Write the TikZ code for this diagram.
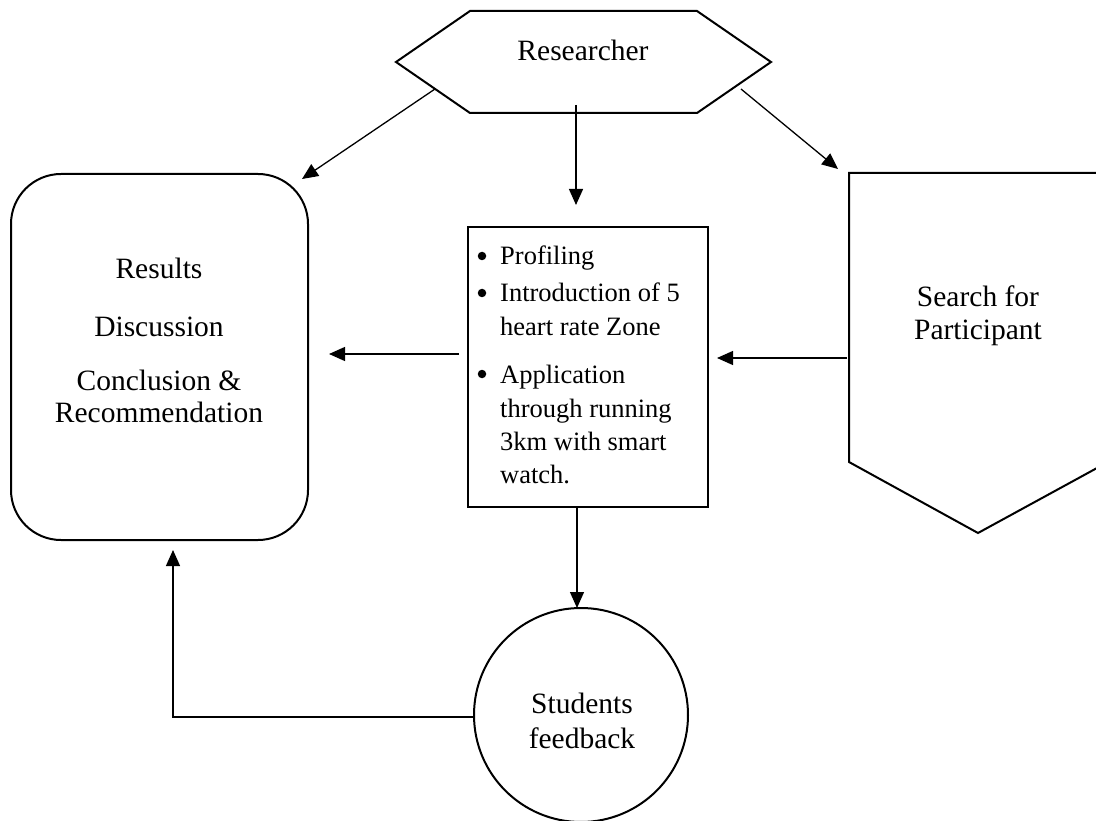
\documentclass[tikz,border=0pt]{standalone}
\usepackage{fontspec}
\setmainfont{Liberation Serif}
\usetikzlibrary{arrows.meta}
\begin{document}
\begin{tikzpicture}[x=1pt,y=-1pt,
  shapeline/.style={draw=black, line width=2pt},
  conn/.style={draw=black, line width=1.3pt, -{Triangle[length=16pt,width=14pt]}},
  big/.style={font=\fontsize{29.5}{33}\selectfont, inner sep=0pt, anchor=base},
  small/.style={font=\fontsize{26.5}{33}\selectfont, inner sep=0pt, anchor=base west},
  bul/.style={circle, fill=black, inner sep=0pt, minimum size=8.5pt}]
\useasboundingbox (0,0) rectangle (1096,821);

% Researcher hexagon
\draw[shapeline] (396,62) -- (470,11) -- (697,11) -- (771,62) -- (697,113) -- (470,113) -- cycle;
\node[big] (researcher) at (583,61) {Researcher};

% Results rounded box
\node[shapeline, rounded corners=50pt, minimum width=297pt, minimum height=366pt, anchor=north west] (results) at (10,173) {};
\node[big] (t1) at (159,279) {Results};
\node[big] (t2) at (159,337) {Discussion};
\node[big] (t3) at (159,390) {Conclusion \&};
\node[big] (t4) at (159,422) {Recommendation};

% Programme box
\node[shapeline, minimum width=240pt, minimum height=280pt, anchor=north west] (prog) at (467,226) {};
\node[bul] (b1) at (482,256) {};
\node[small] (p1) at (500,265) {Profiling};
\node[bul] (b2) at (482,293) {};
\node[small] (p2) at (500,302) {Introduction of 5};
\node[small] (p3) at (500,336) {heart rate Zone};
\node[bul] (b3) at (482,374) {};
\node[small] (p4) at (500,383) {Application};
\node[small] (p5) at (500,417) {through running};
\node[small] (p6) at (500,450) {3km with smart};
\node[small] (p7) at (500,483) {watch.};

% Search pentagon
\draw[shapeline] (849,173) -- (1108,173) -- (1108,462) -- (978,533) -- (849,462) -- cycle;
\node[big] (s1) at (978,307) {Search for};
\node[big] (s2) at (978,340) {Participant};

% Students feedback circle
\node[shapeline, circle, minimum size=214pt, inner sep=0pt] (fb) at (581,715) {};
\node[big] (f1) at (582,713) {Students};
\node[big] (f2) at (582,748) {feedback};

% connector end points
\coordinate (c1s) at (435,89);  \coordinate (c1e) at (302,179);
\coordinate (c2s) at (576,105); \coordinate (c2e) at (576,205);
\coordinate (c3s) at (741,89);  \coordinate (c3e) at (838,169);
\coordinate (c4s) at (847,358); \coordinate (c4e) at (717,358);
\coordinate (c5s) at (459,354); \coordinate (c5e) at (329,354);
\coordinate (c6s) at (577,506); \coordinate (c6e) at (577,608);
\coordinate (c7s) at (474,717); \coordinate (c7m) at (173,717); \coordinate (c7e) at (173,550);

\draw[conn] (c1s) -- (c1e);
\draw[conn] (c2s) -- (c2e);
\draw[conn] (c3s) -- (c3e);
\draw[conn] (c4s) -- (c4e);
\draw[conn] (c5s) -- (c5e);
\draw[conn] (c6s) -- (c6e);
\draw[conn] (c7s) -- (c7m) -- (c7e);
\end{tikzpicture}
\end{document}
